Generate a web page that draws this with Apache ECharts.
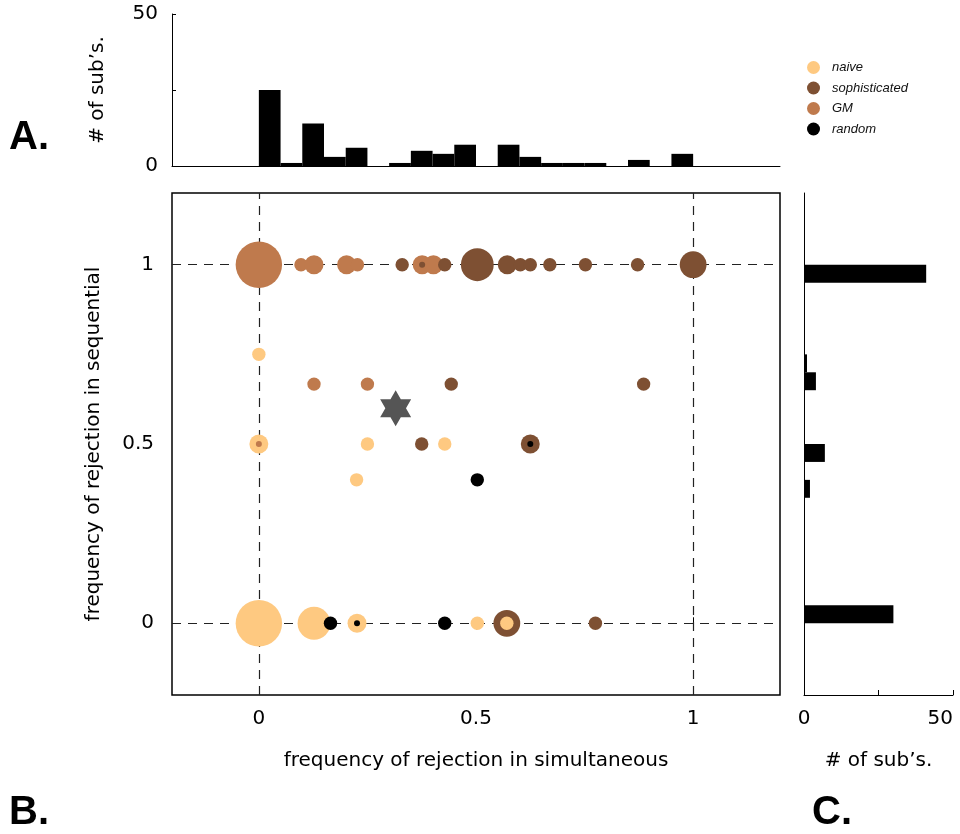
<!DOCTYPE html>
<html>
<head>
<meta charset="utf-8">
<script src="https://cdn.jsdelivr.net/npm/echarts@6/dist/echarts.min.js"></script>
<style>
html,body{margin:0;padding:0;background:#fff;}
#chart{width:960px;height:834px;}
</style>
</head>
<body>
<div id="chart"></div>
<script>
// ---------------- data ----------------
// scatter points: [freq. rejection simultaneous, freq. rejection sequential, # of subjects]
const naivePts = [
  [0, 0.75, 1], [0, 0.5, 2], [0.25, 0.5, 1], [0.428, 0.5, 1], [0.225, 0.4, 1],
  [0, 0, 12], [0.127, 0, 6], [0.226, 0, 2], [0.503, 0, 1], [0.571, 0, 1]
];
const sophPts = [
  [0.330, 1, 1], [0.428, 1, 1], [0.503, 1, 6], [0.572, 1, 2], [0.602, 1, 1],
  [0.625, 1, 1], [0.670, 1, 1], [0.752, 1, 1], [0.872, 1, 1], [1, 1, 4],
  [0.443, 0.667, 1], [0.886, 0.667, 1],
  [0.375, 0.5, 1], [0.625, 0.5, 2],
  [0.571, 0, 4], [0.775, 0, 1]
];
const gmPts = [
  [0, 1, 12], [0.097, 1, 1], [0.127, 1, 2], [0.202, 1, 2], [0.227, 1, 1],
  [0.376, 1, 2], [0.402, 1, 2],
  [0.127, 0.667, 1], [0.25, 0.667, 1]
];
const randomPts = [
  [0.503, 0.4, 1], [0.165, 0, 1], [0.428, 0, 1]
];
// small markers drawn inside larger circles
const gmInner = [[0, 0.5]];
const sophInner = [[0.376, 1]];
const randomInner = [[0.625, 0.5], [0.226, 0]];
// mean point (star)
const meanPoint = [[0.315, 0.6]];

// reference lines
const refX = [0, 1];
const refY = [0, 1];

// tick values
const mainTicks = [0, 0.5, 1];

// top histogram (frequency of rejection in simultaneous)
const topBinEdges = [0, 0.05, 0.1, 0.15, 0.2, 0.25, 0.3, 0.35, 0.4, 0.45, 0.5,
  0.55, 0.6, 0.65, 0.7, 0.75, 0.8, 0.85, 0.9, 0.95, 1.0];
const topCounts = [25, 1, 14, 3, 6, 0, 1, 5, 4, 7, 0, 7, 3, 1, 1, 1, 0, 2, 0, 4];

// right histogram (frequency of rejection in sequential)
const rightBinLo = [0.95, 0.70, 0.65, 0.45, 0.35, 0.0];
const rightBinHi = [1.00, 0.75, 0.70, 0.50, 0.40, 0.05];
const rightCounts = [41, 1, 4, 7, 2, 30];

const histTicks = [0, 25, 50];

// ---------------- styles ----------------
const C_NAIVE = '#FEC981';
const C_SOPH = '#7E5033';
const C_GM = '#BF7A4D';
const C_RANDOM = '#000000';
const C_STAR = '#555555';
const FONT = 'DejaVu Sans';
const sizeOf = v => 13.4 * Math.sqrt(v[2]);
const STAR_PATH = 'path://M100 0 L128.87 50 L186.6 50 L157.7 100 L186.6 150 L128.87 150 L100 200 L71.13 150 L13.4 150 L42.3 100 L13.4 50 L71.13 50 Z';

const topData = topCounts.map((c, i) => [topBinEdges[i], topBinEdges[i + 1], c]);
const rightData = rightCounts.map((c, i) => [rightBinLo[i], rightBinHi[i], c]);

const tickStyle = {show: true, inside: true, length: 6, customValues: mainTicks, lineStyle: {color: '#000', width: 1}};
const labelStyle = {color: '#000', fontFamily: FONT, fontSize: 20};
const plainLine = {show: true, onZero: false, lineStyle: {color: '#000', width: 1}};

const chart = echarts.init(document.getElementById('chart'), null, {renderer: 'canvas'});
const option = {
  animation: false,
  backgroundColor: '#fff',
  grid: [
    {left: 172, top: 193, width: 608, height: 502, show: true, borderColor: '#000', borderWidth: 1.5, backgroundColor: 'transparent'},
    {left: 172, top: 14, width: 608, height: 152},
    {left: 804, top: 193, width: 149, height: 502}
  ],
  xAxis: [
    {gridIndex: 0, type: 'value', min: -0.2, max: 1.2,
     axisLine: {show: false}, splitLine: {show: false},
     axisTick: tickStyle,
     axisLabel: Object.assign({customValues: mainTicks, margin: 14}, labelStyle),
     name: 'frequency of rejection in simultaneous', nameLocation: 'middle', nameGap: 56,
     nameTextStyle: labelStyle},
    {gridIndex: 0, type: 'value', position: 'top', min: -0.2, max: 1.2,
     axisLine: {show: false}, splitLine: {show: false},
     axisTick: tickStyle, axisLabel: {show: false}},
    {gridIndex: 1, type: 'value', min: -0.2, max: 1.2,
     axisLine: plainLine,
     axisTick: {show: false}, axisLabel: {show: false}, splitLine: {show: false}},
    {gridIndex: 2, type: 'value', min: 0, max: 50, interval: 25,
     axisLine: plainLine,
     axisTick: {show: true, inside: true, length: 5, customValues: histTicks, lineStyle: {color: '#000'}},
     axisLabel: Object.assign({customValues: [0, 50], margin: 14, alignMaxLabel: 'right'}, labelStyle),
     splitLine: {show: false},
     name: '# of sub\u2019s.', nameLocation: 'middle', nameGap: 56, nameTextStyle: labelStyle}
  ],
  yAxis: [
    {gridIndex: 0, type: 'value', min: -0.2, max: 1.2,
     axisLine: {show: false}, splitLine: {show: false},
     axisTick: tickStyle,
     axisLabel: Object.assign({customValues: mainTicks, margin: 18}, labelStyle),
     name: 'frequency of rejection in sequential', nameLocation: 'middle', nameGap: 68,
     nameTextStyle: labelStyle},
    {gridIndex: 0, type: 'value', position: 'right', min: -0.2, max: 1.2,
     axisLine: {show: false}, splitLine: {show: false},
     axisTick: tickStyle, axisLabel: {show: false}},
    {gridIndex: 1, type: 'value', min: 0, max: 50, interval: 25,
     axisLine: plainLine,
     axisTick: {show: true, inside: true, length: 4, customValues: histTicks, lineStyle: {color: '#000'}},
     axisLabel: Object.assign({customValues: [0, 50], margin: 14}, labelStyle),
     splitLine: {show: false},
     name: '# of sub\u2019s.', nameLocation: 'middle', nameGap: 64, nameTextStyle: labelStyle},
    {gridIndex: 2, type: 'value', min: -0.2, max: 1.2,
     axisLine: plainLine,
     axisTick: {show: false}, axisLabel: {show: false}, splitLine: {show: false}}
  ],
  legend: {
    data: ['naive', 'sophisticated', 'GM', 'random'],
    orient: 'vertical', left: 802, top: 56,
    icon: 'circle', itemWidth: 13, itemHeight: 13, itemGap: 7.5,
    selectedMode: false,
    textStyle: {fontFamily: 'Liberation Sans', fontStyle: 'italic', fontSize: 13, color: '#111', lineHeight: 13, padding: [0, 0, 0, 7]}
  },
  graphic: [
    {type: 'text', left: 9, top: 118, style: {text: 'A.', font: 'bold 40px "Liberation Sans"', fill: '#000'}},
    {type: 'text', left: 9, top: 793, style: {text: 'B.', font: 'bold 40px "Liberation Sans"', fill: '#000'}},
    {type: 'text', left: 812, top: 793, style: {text: 'C.', font: 'bold 40px "Liberation Sans"', fill: '#000'}}
  ],
  series: [
    {name: 'refs', type: 'scatter', xAxisIndex: 0, yAxisIndex: 0, data: [], z: 1,
     markLine: {silent: true, symbol: 'none', z: 1, label: {show: false},
       lineStyle: {color: '#222', width: 1.2, type: [9, 7]},
       data: refX.map(v => ({xAxis: v})).concat(refY.map(v => ({yAxis: v})))}},
    {name: 'GM', type: 'scatter', xAxisIndex: 0, yAxisIndex: 0, data: gmPts, symbolSize: sizeOf,
     itemStyle: {color: C_GM, opacity: 1}, z: 3},
    {name: 'sophisticated', type: 'scatter', xAxisIndex: 0, yAxisIndex: 0, data: sophPts, symbolSize: sizeOf,
     itemStyle: {color: C_SOPH, opacity: 1}, z: 3},
    {name: 'naive', type: 'scatter', xAxisIndex: 0, yAxisIndex: 0, data: naivePts, symbolSize: sizeOf,
     itemStyle: {color: C_NAIVE, opacity: 1}, z: 3},
    {name: 'random', type: 'scatter', xAxisIndex: 0, yAxisIndex: 0, data: randomPts, symbolSize: sizeOf,
     itemStyle: {color: C_RANDOM, opacity: 1}, z: 3},
    {name: 'GM', type: 'scatter', xAxisIndex: 0, yAxisIndex: 0, data: gmInner, symbolSize: 6,
     itemStyle: {color: C_GM, opacity: 1}, z: 4},
    {name: 'sophisticated', type: 'scatter', xAxisIndex: 0, yAxisIndex: 0, data: sophInner, symbolSize: 6,
     itemStyle: {color: C_SOPH, opacity: 1}, z: 4},
    {name: 'random', type: 'scatter', xAxisIndex: 0, yAxisIndex: 0, data: randomInner, symbolSize: 6,
     itemStyle: {color: C_RANDOM, opacity: 1}, z: 4},
    {name: 'mean', type: 'scatter', xAxisIndex: 0, yAxisIndex: 0, data: meanPoint,
     symbol: STAR_PATH, symbolSize: [31, 36], itemStyle: {color: C_STAR, opacity: 1}, z: 5},
    {name: 'topHist', type: 'custom', xAxisIndex: 2, yAxisIndex: 2, data: topData,
     encode: {x: [0, 1], y: 2},
     renderItem: function (params, api) {
       const p0 = api.coord([api.value(0), 0]);
       const p1 = api.coord([api.value(1), api.value(2)]);
       return {type: 'rect', shape: {x: p0[0], y: p1[1], width: p1[0] - p0[0], height: p0[1] - p1[1]},
               style: {fill: '#000'}};
     }},
    {name: 'rightHist', type: 'custom', xAxisIndex: 3, yAxisIndex: 3, data: rightData,
     encode: {x: 2, y: [0, 1]},
     renderItem: function (params, api) {
       const p0 = api.coord([0, api.value(0)]);
       const p1 = api.coord([api.value(2), api.value(1)]);
       return {type: 'rect', shape: {x: p0[0], y: p1[1], width: p1[0] - p0[0], height: p0[1] - p1[1]},
               style: {fill: '#000'}};
     }}
  ]
};
chart.setOption(option);
</script>
</body>
</html>
